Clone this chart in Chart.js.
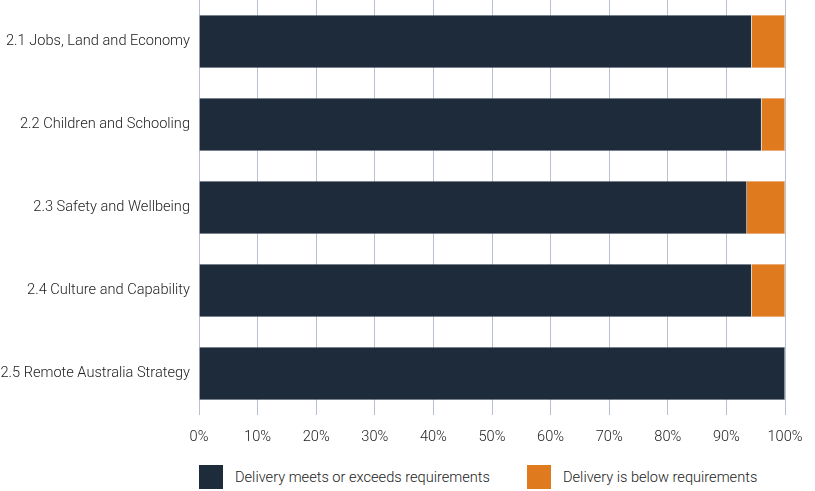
<!DOCTYPE html>
<html>
<head>
<meta charset="utf-8">
<script src="https://cdn.jsdelivr.net/npm/chart.js@4"></script>
<style>
  html, body { margin: 0; padding: 0; background: #fff; }
  body { width: 815px; height: 491px; overflow: hidden; font-family: Roboto, sans-serif; }
  #wrap { position: relative; width: 815px; height: 450px; }
  #legend { position: absolute; top: 465px; left: 0; width: 815px; height: 26px; }
  .item { position: absolute; top: 0; display: flex; align-items: center; font-size: 14.6px; font-weight: 300; color: #222; }
  .box { width: 24px; height: 24px; margin-right: 12px; }
</style>
</head>
<body>
<div id="wrap"><canvas id="barChart"></canvas></div>
<div id="legend"></div>
<script>
const categories = [
  '2.1 Jobs, Land and Economy',
  '2.2 Children and Schooling',
  '2.3 Safety and Wellbeing',
  '2.4 Culture and Capability',
  '2.5 Remote Australia Strategy'
];
const meetsValues = [94.3, 96.0, 93.5, 94.3, 100];
const belowValues = [5.7, 4.0, 6.5, 5.7, 0];
const tickLabels = ['0%', '10%', '20%', '30%', '40%', '50%', '60%', '70%', '80%', '90%', '100%'];

const seriesNames = ['Delivery meets or exceeds requirements', 'Delivery is below requirements'];
const seriesColors = ['#1e2b3a', '#e07a1f'];
const legendLefts = [199, 527];

const ctx = document.getElementById('barChart').getContext('2d');
new Chart(ctx, {
  type: 'bar',
  data: {
    labels: categories,
    datasets: [
      {
        label: seriesNames[0],
        data: meetsValues,
        backgroundColor: seriesColors[0],
        borderColor: 'rgba(140,150,165,0.7)',
        borderWidth: 0.6,
        barPercentage: 0.64,
        categoryPercentage: 1
      },
      {
        label: seriesNames[1],
        data: belowValues,
        backgroundColor: seriesColors[1],
        borderColor: 'rgba(230,160,110,0.7)',
        borderWidth: 0.6,
        barPercentage: 0.64,
        categoryPercentage: 1
      }
    ]
  },
  options: {
    indexAxis: 'y',
    responsive: true,
    maintainAspectRatio: false,
    animation: false,
    layout: { padding: { top: 0, right: 30, bottom: 0, left: 0 } },
    plugins: {
      legend: { display: false },
      tooltip: { enabled: false }
    },
    scales: {
      x: {
        stacked: true,
        min: 0,
        max: 100,
        afterFit: (scale) => {
          scale.height = 35;
          scale.paddingRight = 0;
        },
        grid: { color: '#b9c1cf', lineWidth: 1, drawTicks: false },
        border: { display: false },
        ticks: {
          stepSize: 10,
          padding: 14,
          color: '#222',
          font: { family: 'Roboto', size: 14.6, weight: '300' },
          callback: (value, index) => tickLabels[index]
        }
      },
      y: {
        stacked: true,
        afterFit: (scale) => {
          scale.width = 199;
          scale.paddingTop = 0;
          scale.paddingBottom = 0;
        },
        grid: { display: false },
        border: { display: false },
        ticks: {
          padding: 1,
          color: '#222',
          font: { family: 'Roboto', size: 14.6, weight: '300' }
        }
      }
    }
  }
});

// html legend built from the series
const legend = document.getElementById('legend');
seriesNames.forEach((name, i) => {
  const item = document.createElement('div');
  item.className = 'item';
  item.style.left = legendLefts[i] + 'px';
  item.innerHTML = `<span class="box" style="background:${seriesColors[i]}"></span><span>${name}</span>`;
  legend.appendChild(item);
});
</script>
</body>
</html>
